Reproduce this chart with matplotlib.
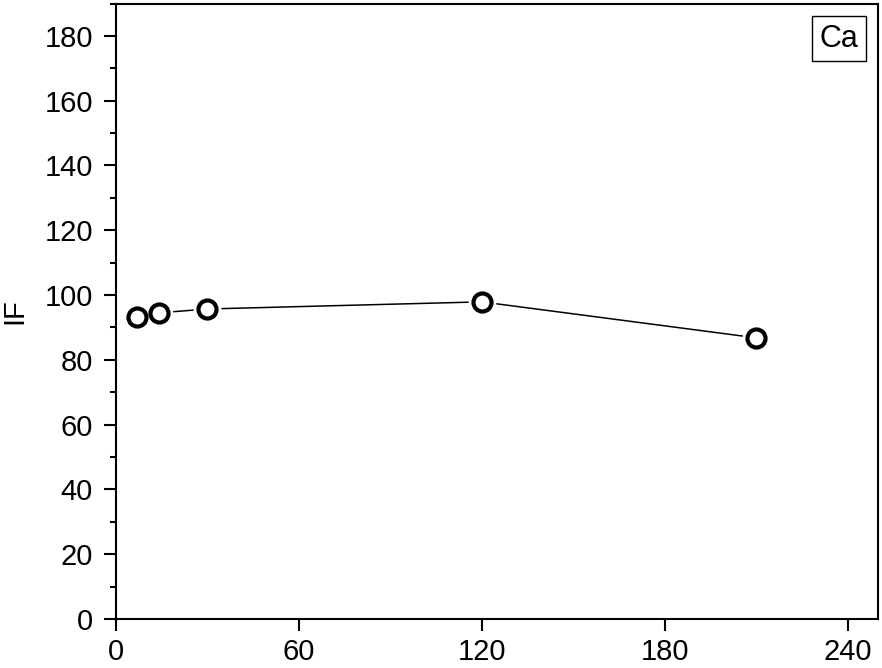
import matplotlib.pyplot as plt
from matplotlib.ticker import MultipleLocator

plt.rcParams["font.family"] = ["Liberation Sans", "DejaVu Sans"]

# data
time = [7, 14, 30, 120, 210]
IF = [93.2, 94.5, 95.7, 97.9, 86.8]
x_ticks = [0, 60, 120, 180, 240]
y_ticks = list(range(0, 181, 20))
element = "Ca"

fig = plt.figure(figsize=(8.82, 6.68), dpi=100)
ax = fig.add_axes([116 / 882, 49 / 668, 762 / 882, 615.5 / 668])

# line with a small gap round each marker (white halo underneath)
ax.plot(time, IF, color="black", linewidth=1.1, zorder=2)
ax.plot(time, IF, linestyle="none", marker="o", markersize=19,
        markerfacecolor="white", markeredgecolor="white", zorder=3)
ax.plot(time, IF, linestyle="none", marker="o", markersize=13,
        markerfacecolor="none", markeredgecolor="black",
        markeredgewidth=3, zorder=4)

ax.set_xlim(0, 250)
ax.set_ylim(0, 190)
ax.set_xticks(x_ticks)
ax.set_yticks(y_ticks)
ax.yaxis.set_minor_locator(MultipleLocator(10))

for spine in ax.spines.values():
    spine.set_linewidth(1.5)

ax.tick_params(axis="both", which="major", direction="out", length=8.5,
               width=1.5, labelsize=21, top=False, right=False)
ax.tick_params(axis="y", which="major", pad=8)
ax.tick_params(axis="x", which="major", pad=5)
ax.tick_params(axis="y", which="minor", direction="out", length=4,
               width=1.5, right=False)

ax.set_ylabel("IF", fontsize=21, labelpad=12)

ax.text(0.974, 0.9675, element, transform=ax.transAxes, fontsize=22,
        ha="right", va="top",
        bbox=dict(boxstyle="square,pad=0.25", facecolor="white",
                  edgecolor="black", linewidth=1))

fig.savefig("out.png", dpi=100)
